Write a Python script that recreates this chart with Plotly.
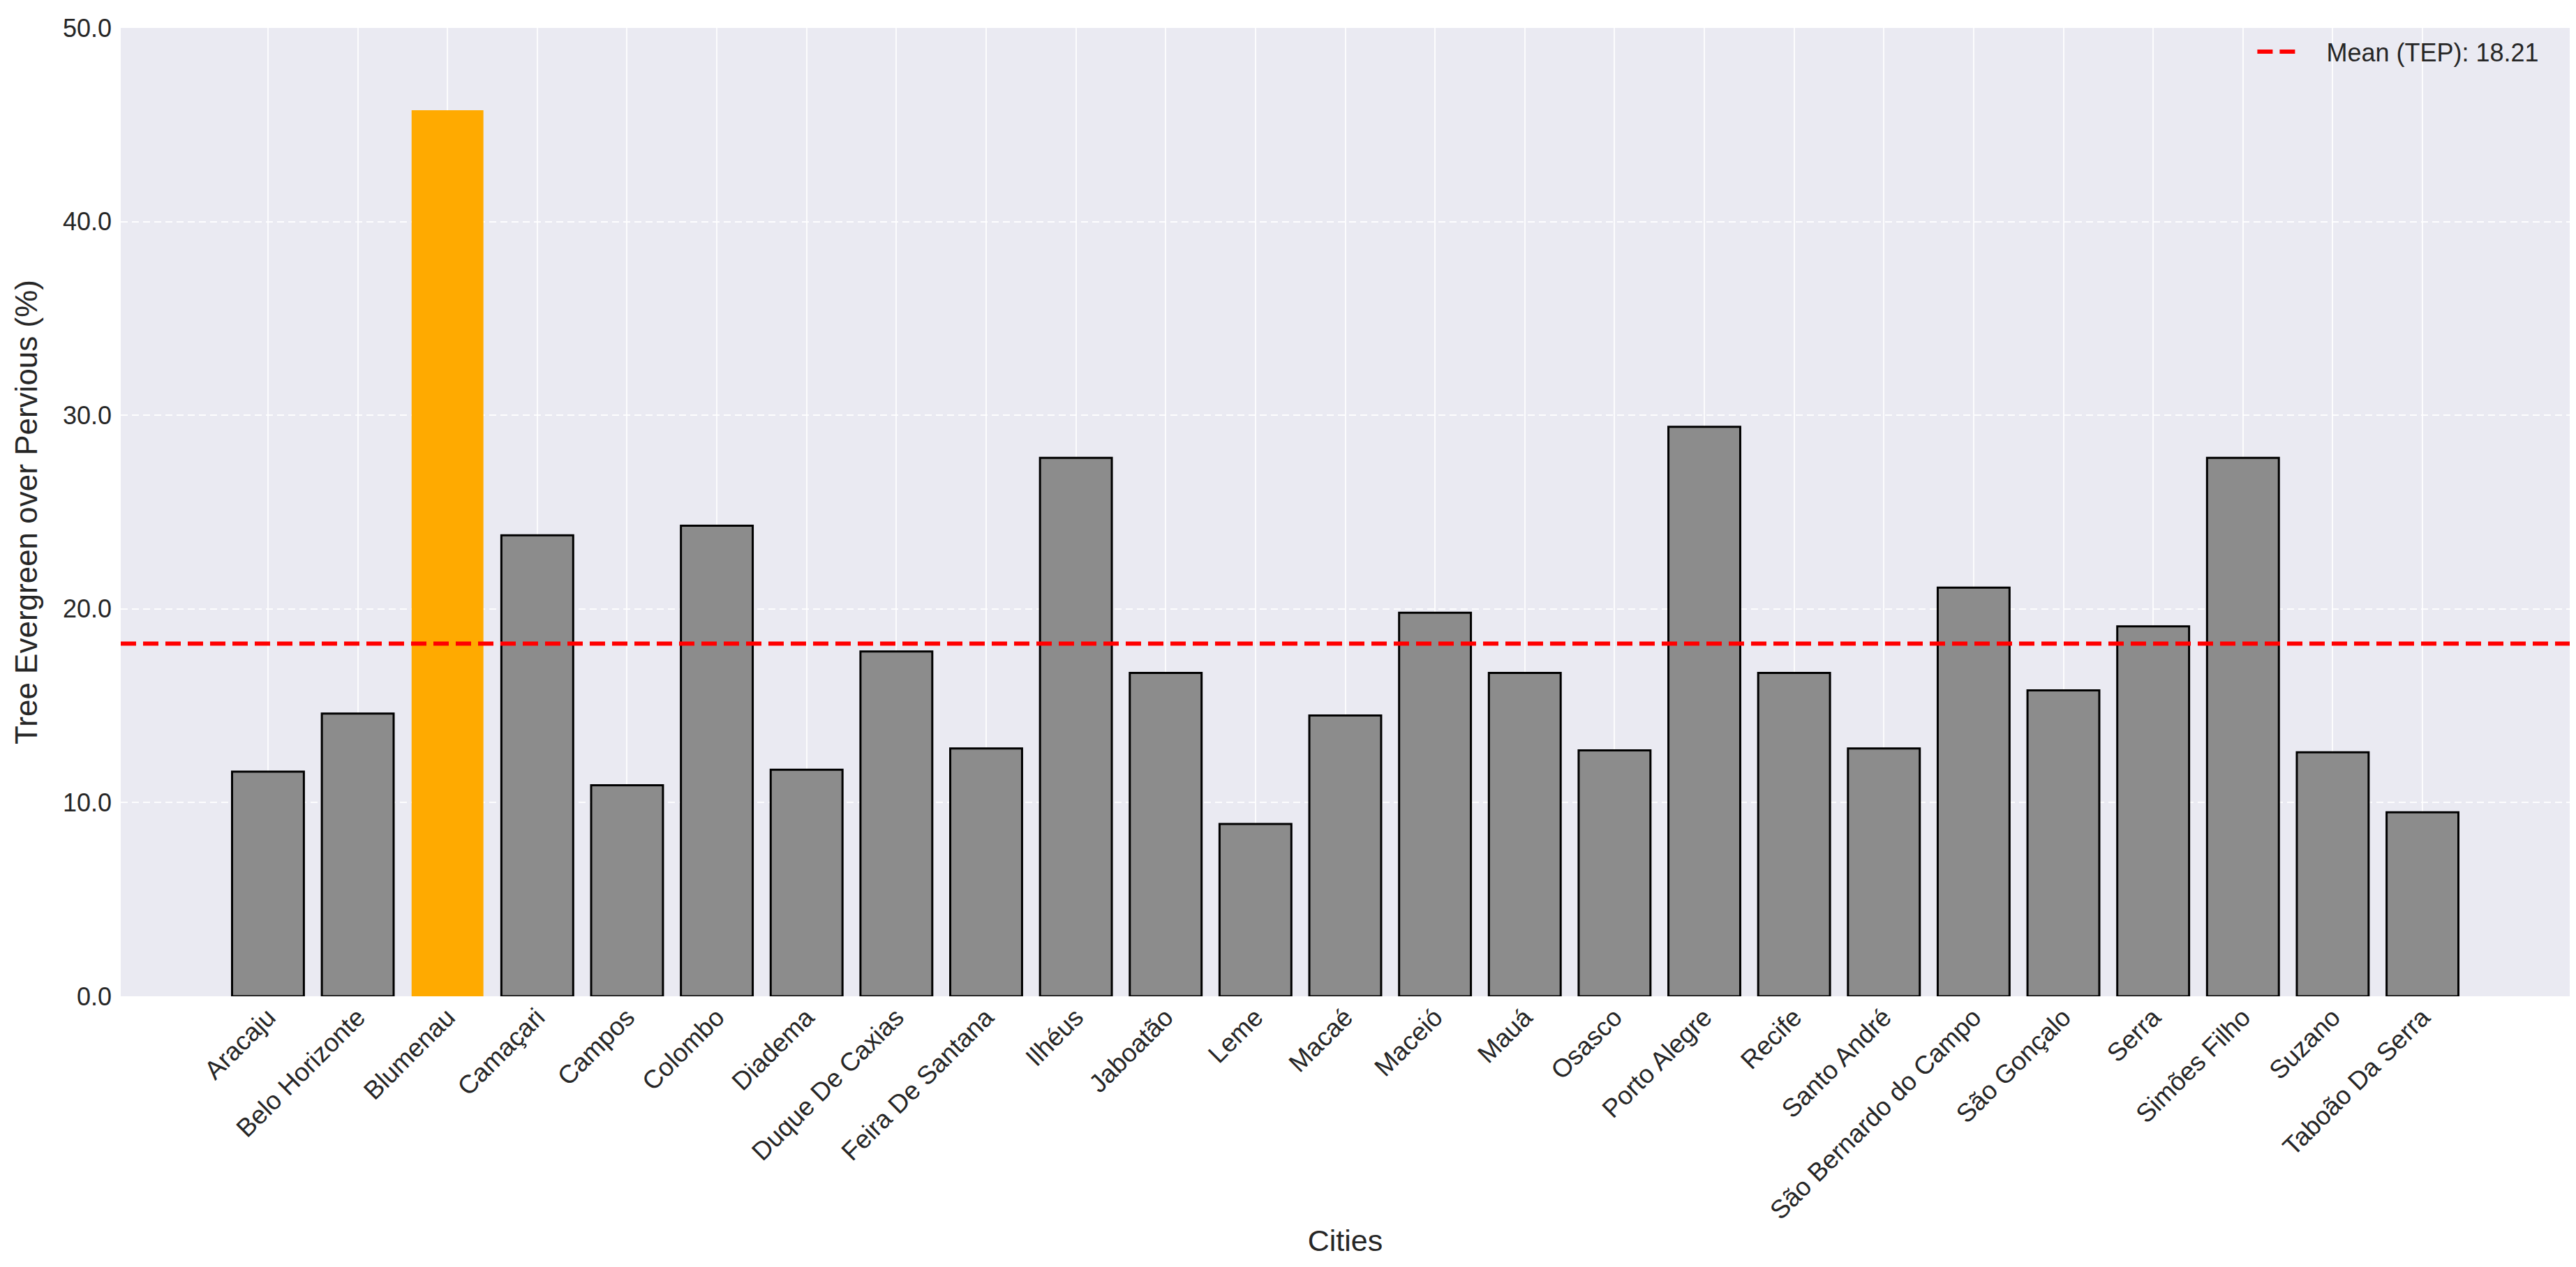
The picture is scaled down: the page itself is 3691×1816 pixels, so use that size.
import plotly.graph_objects as go

cities = ["Aracaju", "Belo Horizonte", "Blumenau", "Camaçari", "Campos", "Colombo",
          "Diadema", "Duque De Caxias", "Feira De Santana", "Ilhéus", "Jaboatão", "Leme",
          "Macaé", "Maceió", "Mauá", "Osasco", "Porto Alegre", "Recife", "Santo André",
          "São Bernardo do Campo", "São Gonçalo", "Serra", "Simões Filho", "Suzano",
          "Taboão Da Serra"]
tep_values = [11.6, 14.6, 45.75, 23.8, 10.9, 24.3, 11.7, 17.8, 12.8, 27.8, 16.7, 8.9,
              14.5, 19.8, 16.7, 12.7, 29.4, 16.7, 12.8, 21.1, 15.8, 19.1, 27.8, 12.6, 9.5]
highlight_city = "Blumenau"
y_ticks = [0, 10, 20, 30, 40, 50]

mean_val = sum(tep_values) / len(tep_values)

bar_colors = ["#FFAA00" if c == highlight_city else "#8C8C8C" for c in cities]
edge_widths = [0 if c == highlight_city else 3 for c in cities]

FONT = "Liberation Sans, Arial, sans-serif"
TXT = "#262626"

fig = go.Figure()
fig.add_trace(go.Bar(
    x=cities, y=tep_values, width=0.8,
    marker=dict(color=bar_colors, line=dict(color="black", width=edge_widths)),
    showlegend=False,
))

fig.add_shape(
    type="line", xref="paper", x0=0, x1=1, yref="y", y0=mean_val, y1=mean_val,
    line=dict(color="#FF0000", width=6, dash="22px,10px"),
    layer="above", showlegend=True,
    name="\u00a0\u00a0\u00a0" + f"Mean (TEP): {mean_val:.2f}",
)

fig.update_layout(
    width=3691, height=1816,
    margin=dict(l=165, r=17, t=30, b=396),
    paper_bgcolor="white", plot_bgcolor="#EAEAF2",
    font=dict(family=FONT, color=TXT, size=36),
    showlegend=True,
    legend=dict(x=0.989, y=0.997, xanchor="right", yanchor="top",
                bgcolor="rgba(0,0,0,0)", font=dict(size=36, color=TXT),
                itemwidth=64),
    bargap=0.2,
)

fig.update_xaxes(
    type="category", categoryorder="array", categoryarray=cities,
    range=[-1.64, len(cities) - 1 + 1.64],
    tickangle=-45, tickfont=dict(size=37, color=TXT),
    showgrid=True, gridcolor="rgba(255,255,255,0.85)", gridwidth=2,
    showline=False, zeroline=False, ticks="",
    title=dict(text="Cities", font=dict(size=43, color=TXT), standoff=8),
)
fig.update_yaxes(
    range=[0, 50], tickvals=y_ticks, tickformat=".1f",
    tickfont=dict(size=36, color=TXT),
    showgrid=True, gridcolor="rgba(255,255,255,0.9)", gridwidth=2, griddash="10px,6px",
    showline=False, zeroline=False, ticks="", ticklabelstandoff=12,
    title=dict(text="Tree Evergreen over Pervious (%)", font=dict(size=44, color=TXT), standoff=22),
)

fig.write_html("out.html")
